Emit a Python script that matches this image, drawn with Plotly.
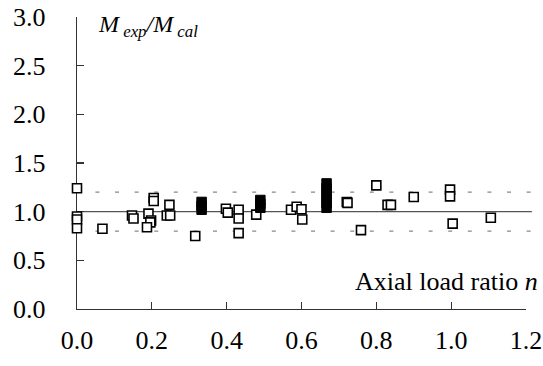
import plotly.graph_objects as go

# Open squares: axial load ratio n and Mexp/Mcal
n_open = [0.0, 0.0, 0.0, 0.0, 0.068, 0.147, 0.151, 0.205, 0.205, 0.191, 0.198, 0.196, 0.187,
          0.247, 0.240, 0.249, 0.316, 0.398, 0.403, 0.432, 0.432, 0.432, 0.479,
          0.572, 0.587, 0.600, 0.602, 0.721, 0.723, 0.759, 0.800, 0.830, 0.839,
          0.900, 0.997, 0.997, 1.004, 1.106]
ratio_open = [1.24, 0.95, 0.92, 0.83, 0.825, 0.96, 0.93, 1.14, 1.11, 0.98, 0.91, 0.89, 0.84,
              1.07, 0.96, 0.96, 0.75, 1.03, 0.99, 1.02, 0.93, 0.78, 0.97,
              1.02, 1.05, 1.025, 0.92, 1.10, 1.09, 0.81, 1.27, 1.07, 1.07,
              1.15, 1.226, 1.157, 0.877, 0.938]

# Filled squares (stacked specimens)
n_filled = [0.333, 0.333, 0.333, 0.490, 0.490, 0.490,
            0.667, 0.667, 0.667, 0.667, 0.667, 0.667]
ratio_filled = [1.02, 1.06, 1.10, 1.04, 1.08, 1.12,
                1.04, 1.09, 1.14, 1.19, 1.24, 1.29]

x_ticks = [0.0, 0.2, 0.4, 0.6, 0.8, 1.0, 1.2]
x_tick_text = ["0.0", "0.2", "0.4", "0.6", "0.8", "1.0", "1.2"]
y_ticks = [0.0, 0.5, 1.0, 1.5, 2.0, 2.5, 3.0]
y_tick_text = ["0.0", "0.5", "1.0", "1.5", "2.0", "2.5", "3.0"]
ref_solid = 1.0
ref_dotted = [1.2, 0.8]

FONT = "Liberation Serif"

fig = go.Figure()
fig.add_trace(go.Scatter(
    x=n_open, y=ratio_open, mode="markers", cliponaxis=False,
    marker=dict(symbol="square", size=9, color="white",
                line=dict(color="black", width=1.6)),
    showlegend=False, hoverinfo="skip"))
fig.add_trace(go.Scatter(
    x=n_filled, y=ratio_filled, mode="markers", cliponaxis=False,
    marker=dict(symbol="square", size=9.5, color="black",
                line=dict(color="black", width=1)),
    showlegend=False, hoverinfo="skip"))

fig.add_shape(type="line", xref="paper", yref="y", x0=0, x1=1.013,
              y0=ref_solid, y1=ref_solid, line=dict(color="#555555", width=1.3),
              layer="below")
for v in ref_dotted:
    fig.add_shape(type="line", xref="paper", yref="y", x0=0.041, x1=1.011,
                  y0=v, y1=v, line=dict(color="#888888", width=1.3, dash="4px,15.6px"),
                  layer="below")

fig.add_annotation(
    text="<i>M</i><sub><i> exp</i></sub><i>/M</i><sub><i> cal</i></sub>",
    xref="paper", yref="paper", x=0.042, y=1.027, xanchor="left", yanchor="top",
    showarrow=False, font=dict(family=FONT, size=24, color="black"))
fig.add_annotation(
    text="Axial load ratio <i>n</i>",
    xref="paper", yref="paper", x=1.031, y=0.036, xanchor="right", yanchor="bottom",
    showarrow=False, font=dict(family=FONT, size=26, color="black"))

axis_common = dict(showgrid=False, zeroline=False, showline=True, linecolor="#333333",
                   linewidth=1.3, ticks="inside", ticklen=7, tickcolor="#333333",
                   tickwidth=1.2, tickfont=dict(family=FONT, size=26, color="black"),
                   layer="below traces", automargin=False)
fig.update_xaxes(range=[0, 1.2], tickmode="array", tickvals=x_ticks, ticktext=x_tick_text,
                 ticklabelstandoff=7, **axis_common)
fig.update_yaxes(range=[0, 3.0], tickmode="array", tickvals=y_ticks, ticktext=y_tick_text,
                 ticklabelstandoff=25, **axis_common)

fig.update_layout(width=543, height=366,
                  margin=dict(l=77, r=17, t=17, b=57, autoexpand=False),
                  font=dict(family=FONT, color="black"),
                  plot_bgcolor="white", paper_bgcolor="white", hovermode=False)
fig.write_html("out.html", config={"displayModeBar": False, "staticPlot": True},
               post_script="document.body.style.margin='0px';document.body.style.overflow='hidden';")
